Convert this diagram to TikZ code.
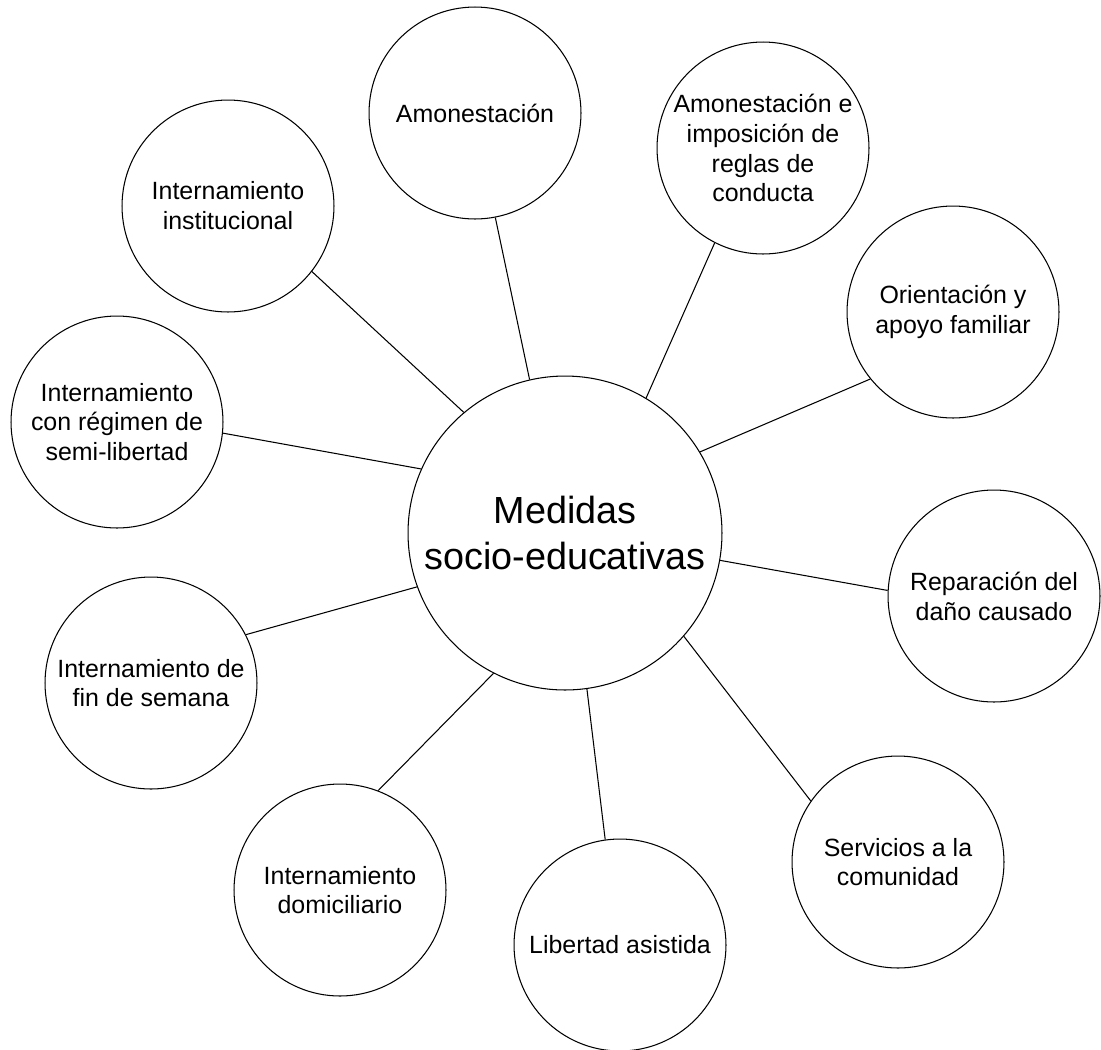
\documentclass[tikz,border=0pt]{standalone}
\usepackage{fontspec}
\setmainfont{Liberation Sans}

\begin{document}
\begin{tikzpicture}[x=0.02cm,y=-0.02cm,line width=0.6pt]
            \useasboundingbox (0,0) rectangle (1101,1049);
            \begin{scope}[every node/.style={circle,draw=black,inner sep=0pt,align=center,minimum size=4.24cm,font=\fontsize{14.2}{17}\selectfont}]
                \node (med) at (565,533) [minimum size=6.28cm,font=\fontsize{21.5}{26.5}\selectfont] {Medidas\\socio-educativas};
                \node (amon) at (475,113) {Amonestación};
                \node (amonreg) at (763,148) {Amonestación e\\imposición de\\reglas de\\conducta};
                \node (orient) at (953,312) {Orientación y\\apoyo familiar};
                \node (repar) at (994,596) {Reparación del\\daño causado};
                \node (serv) at (898,862) {Servicios a la\\comunidad};
                \node (libert) at (620,945) {Libertad asistida};
                \node (domic) at (340,890) {Internamiento\\domiciliario};
                \node (finsem) at (151,683) {Internamiento de\\fin de semana};
                \node (semilib) at (117,422) {Internamiento\\con régimen de\\semi-libertad};
                \node (instit) at (228,206) {Internamiento\\institucional};
            \end{scope}
            \draw (med.103) edge (amon.281);
            \draw (med.59.5) edge (amonreg.243);
            \draw (med.31.4) edge (orient.219);
            \draw (med.-10.6) edge (repar.177);
            \draw (med.-41.2) edge (serv.145.2);
            \draw (med.-82) edge (libert.98);
            \draw (med.243.6) edge (domic.69.4);
            \draw (med.200) edge (finsem.27.5);
            \draw (med.156.7) edge (semilib.-6.5);
            \draw (med.130.4) edge (instit.-38.2);
        \end{tikzpicture}
\end{document}
